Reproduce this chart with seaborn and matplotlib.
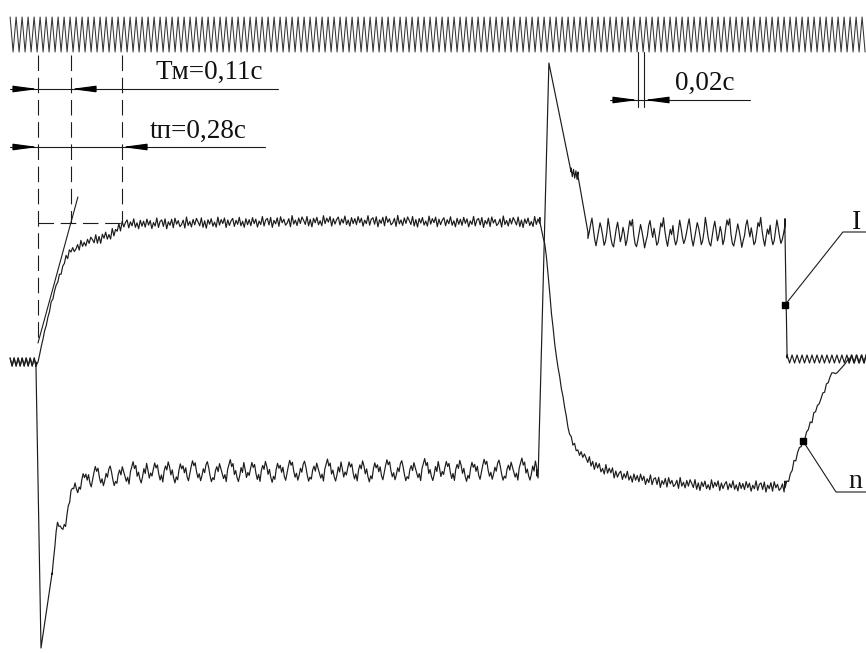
import numpy as np
import pandas as pd
import matplotlib
matplotlib.use("Agg")
import matplotlib.pyplot as plt
import seaborn as sns

sns.set_style("white")
plt.rcParams['font.family'] = ['Liberation Serif', 'DejaVu Serif']

# ---------------- data (time in s, deflection in trace units) ----------------
# timing mark (50 Hz, 0.02 s period)
timing_period = 0.02
timing_levels = [345, 310]
timing_span = (-0.093, 2.76)

# current I : key vertices
i_start_t, i_start_v = [-0.093, -0.007], 0
i_drop_t = [-0.007, 0.010, 0.047]
i_drop_v = [0, -286, -211]
i_rec_t = [0.047, 0.063, 0.073, 0.093, 0.12, 0.173, 0.373, 1.0, 1.663]
i_rec_v = [-211, -163, -168, -158, -123, -116, -110, -109, -108]
i_rec_amp = [2, 4, 5, 6, 8, 10, 10, 10, 10]
i_rev_t = [1.663, 1.667, 1.703, 1.777]
i_rev_v = [-108, -116, 299, 190]
i_kink_t = [1.777, 1.80]
i_kink_v = [190, 186]
i_fall_t = [1.80, 1.833]
i_fall_v = [186, 130]
i_pl_t = [1.833, 1.9, 2.2, 2.49]
i_pl_v = [130, 128, 129, 129]
i_off_t = [2.49, 2.497]
i_off_v = [129, 4]
i_end_t, i_end_v = [2.497, 2.76], 3

# speed n : key vertices
n_rise_t = [0.0, 0.023, 0.047, 0.067, 0.093, 0.113, 0.157, 0.207, 0.257, 0.28, 0.5, 1.0, 1.5, 1.673]
n_rise_v = [0, 32, 62, 82, 104, 112, 119, 124, 129, 138, 139, 141, 140, 140]
n_rise_amp = [0, 1, 2, 2, 3, 4, 4, 5, 5, 5, 5, 5, 5, 5]
n_rev_t = [1.673, 1.677, 1.693, 1.713, 1.727, 1.743, 1.757, 1.77, 1.79, 1.823, 1.873, 1.94, 2.073, 2.207, 2.49]
n_rev_v = [140, 134, 112, 44, 7, -23, -48, -70, -86, -96, -106, -113, -120, -123, -125]
n_rev_amp = [0, 0, 1, 1, 1, 1, 1, 2, 3, 4, 5, 5, 5, 5, 5]
n_stop_t = [2.49, 2.507, 2.53, 2.55, 2.58, 2.607, 2.63, 2.647, 2.66, 2.69, 2.703]
n_stop_v = [-125, -113, -93, -79, -58, -38, -23, -10, -12, -2, 4]
n_stop_amp = [3, 3, 3, 2, 3, 2, 2, 0, 0, 0, 0]
n_end_t, n_end_v = [2.703, 2.76], 3

# ripple shapes
RIP_N = [0.5, -0.7, 0.9, -0.3, 0.6, -1.0, 0.2, -0.5, 1.1, -0.8, 0.4, 0.7, -0.6, 0.9, -1.1, 0.3,
         -0.4, 0.8, -0.9, 1.0, -0.2, 0.5, -0.7, -0.3, 0.6, -1.0, 1.2, -0.5, 0.3, -0.8, 0.7, -0.4,
         0.9, 0.2, -0.6, 1.0, -0.9, 0.4, -1.1, 0.6, -0.3, 0.8, -0.7, 0.1, -0.9, 1.1, -0.5, 0.6,
         -0.2, 0.9, -1.0, 0.5, -0.6, 0.3, 0.8, -0.8, 0.4, -0.4, 1.0, -0.7, 0.2, -1.0, 0.7, -0.5]
RIP_I = [-0.6, -0.1, -0.4, 0.3, 0.9, 0.4, 0.7, -0.2, -0.8, -0.3, -1.0, 0.1, 0.6, 0.2, 1.0, 0.5,
         -0.3, 0.2, -0.6, -1.1, -0.5, -0.8, 0.2, 0.8, 0.3, 0.6, -0.1, 0.4, -0.5, -0.9, -0.2, 0.5,
         1.1, 0.6, 0.9, 0.0, -0.6, -0.2, -0.9, -0.4, 0.3, -0.1, 0.7, 1.0, 0.4, -0.4, -1.0, -0.6,
         -0.8, 0.1, 0.5, 0.0, 0.8, 0.3, -0.2, -0.7, -0.3, -1.0, 0.2, 0.7, 1.2, 0.5, 0.8, -0.3,
         0.1, -0.6, -1.0, -0.4, 0.4, -0.1, 0.9, 0.2]
RIP_I2 = [-0.5, 0.0, 0.6, 1.1, 0.3, -0.5, -1.0, -0.4, 0.2, 0.8, 0.4, -0.2, -0.9, -0.6, 0.1, 1.2,
          0.5, -0.3, -0.8, -1.0, -0.3, 0.4, 0.9, 0.2, -0.6, -0.2, 0.5, 0.0, -0.9, -0.5, 0.3, 1.0,
          0.6, 1.1, -0.1, -0.8, -1.0, -0.5, 0.1, 0.7, 0.2, -0.4, -1.1, -0.6, -0.2, 0.6, 1.0, 0.3,
          -0.3, 0.4, -0.2, -0.9, -0.7, 0.0, 0.8, 0.5, 1.2, 0.2, -0.5, -1.0, -0.3, 0.3, -0.1, 0.6,
          -0.4, -0.9, -0.6, 0.2, 1.0, 0.4, -0.3, -0.8]
ZIG = [1, -1]

# annotation geometry
dash_x = [0.0, 0.11, 0.28]
dash_bottom = [20, 139, 139]
dash_top = 307
dash_h_v = 139
tangent_t = [0.0, 0.133]
tangent_v = [19, 165]
dim_tm = dict(v=273, t=(-0.093, 0.8), tips=(0.0, 0.11), label="Tм=0,11с", lab=(0.39, 283))
dim_tp = dict(v=215, t=(-0.093, 0.757), tips=(0.0, 0.28), label="tп=0,28с", lab=(0.373, 224))
dim_02 = dict(v=262, t=(1.907, 2.373), tips=(2.0, 2.02), label="0,02с", lab=(2.123, 272))
tick02_v = (310, 255)
lead_I_t, lead_I_v = [2.49, 2.683, 2.76], [57, 130, 130]
lead_n_t, lead_n_v = [2.55, 2.66, 2.76], [-79, -130, -130]
label_I = ("I", 2.713, 133)
label_n = ("n", 2.70, -126)


# ---------------- helpers ----------------
def rippled(kt, kv, amp, step, pattern, phase=0):
    g = np.arange(kt[0], kt[-1], step)
    g = np.append(g, kt[-1])
    base = np.interp(g, kt, kv)
    a = np.interp(g, kt, amp) if np.ndim(amp) else np.full(len(g), float(amp))
    p = np.array([pattern[(k + phase) % len(pattern)] for k in range(len(g))])
    return g, base + a * p


def line(kt, kv):
    return np.array(kt, float), np.array(kv, float)


segs_I = [
    rippled(i_start_t, [i_start_v] * 2, 4, 0.0067, ZIG),
    line(i_drop_t, i_drop_v),
    rippled(i_rec_t, i_rec_v, i_rec_amp, 0.0045, RIP_I),
    line(i_rev_t, i_rev_v),
    rippled(i_kink_t, i_kink_v, 4, 0.004, ZIG),
    line(i_fall_t, i_fall_v),
    rippled(i_pl_t, i_pl_v, 13, 0.0045, RIP_I2),
    line(i_off_t, i_off_v),
    rippled(i_end_t, [i_end_v] * 2, 4, 0.0083, ZIG),
]
segs_n = [
    rippled(i_start_t, [i_start_v] * 2, 4, 0.0067, ZIG),
    rippled(n_rise_t, n_rise_v, n_rise_amp, 0.0055, RIP_N),
    rippled(n_rev_t, n_rev_v, n_rev_amp, 0.0055, RIP_N, 5),
    rippled(n_stop_t, n_stop_v, n_stop_amp, 0.006, RIP_N, 3),
    rippled(n_end_t, [n_end_v] * 2, 4, 0.0083, ZIG, 1),
]

rows = []
for name, segs in (("I", segs_I), ("n", segs_n)):
    for t, v in segs:
        for a, b in zip(t, v):
            rows.append((name, a, b))
df = pd.DataFrame(rows, columns=["trace", "t", "v"])

tt = np.arange(timing_span[0], timing_span[1], timing_period / 2)
df_tm = pd.DataFrame({"t": tt, "v": [timing_levels[k % 2] for k in range(len(tt))]})

# ---------------- figure ----------------
fig = plt.figure(figsize=(8.66, 6.53), dpi=100)
ax = fig.add_axes([0, 0, 1, 1])
ax.set_xlim(-38 / 300, 828 / 300)
ax.set_ylim(-291, 362)
ax.axis("off")

ink = "#1c1c1c"
sns.lineplot(data=df_tm, x="t", y="v", sort=False, estimator=None, color="#333333",
             lw=0.75, ax=ax, legend=False)
sns.lineplot(data=df, x="t", y="v", units="trace", sort=False, estimator=None,
             color=ink, lw=0.85, ax=ax, legend=False)

# construction lines
for x, yb in zip(dash_x, dash_bottom):
    ax.plot([x, x], [dash_top, yb], color=ink, lw=0.8, dashes=(14, 6))
ax.plot([dash_x[0], dash_x[2]], [dash_h_v, dash_h_v], color=ink, lw=0.8, dashes=(14, 6))
ax.plot(tangent_t, tangent_v, color=ink, lw=0.8)

alen = 0.07
for d in (dim_tm, dim_tp, dim_02):
    ax.plot(d["t"], [d["v"], d["v"]], color=ink, lw=0.8)
    t1, t2 = d["tips"]
    for tip, sgn in ((t1, -1), (t2, 1)):
        ax.annotate("", xy=(tip, d["v"]), xytext=(tip + sgn * alen, d["v"]),
                    arrowprops=dict(arrowstyle="-|>,head_length=1.5,head_width=0.2",
                                    fc="black", ec="black", lw=0.8, shrinkA=0, shrinkB=0))
    ax.text(d["lab"][0], d["lab"][1], d["label"], fontsize=19.5, ha="left", va="baseline",
            color="#111111")
for x in dim_02["tips"]:
    ax.plot([x, x], list(tick02_v), color=ink, lw=0.8)

# leaders
ax.plot(lead_I_t, lead_I_v, color=ink, lw=0.8)
ax.plot(lead_I_t[0], lead_I_v[0], "s", color="black", ms=4)
ax.plot(lead_n_t, lead_n_v, color=ink, lw=0.8)
ax.plot(lead_n_t[0], lead_n_v[0], "s", color="black", ms=4)
for s, x, y in (label_I, label_n):
    ax.text(x, y, s, fontsize=20, ha="left", va="baseline", color="#111111")

fig.savefig("out.png", dpi=100)
